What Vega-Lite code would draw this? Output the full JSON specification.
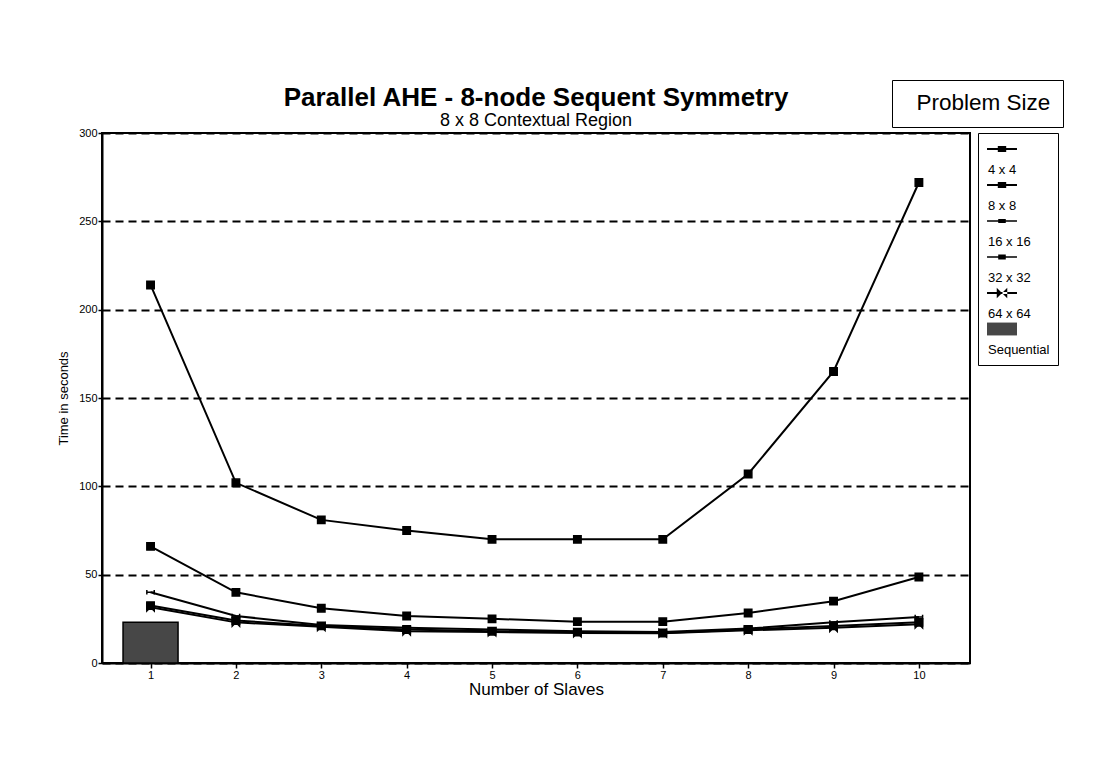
{
  "$schema": "https://vega.github.io/schema/vega-lite/v6.json",
  "width": 868,
  "height": 530,
  "autosize": {"type": "none"},
  "padding": {"left": 102, "top": 133, "right": 129, "bottom": 108},
  "background": "white",
  "title": {
    "text": "Parallel AHE - 8-node Sequent Symmetry",
    "subtitle": "8 x 8 Contextual Region",
    "anchor": "middle",
    "font": "Liberation Sans",
    "fontSize": 26,
    "fontWeight": "bold",
    "color": "black",
    "subtitleFont": "Liberation Sans",
    "subtitleFontSize": 18,
    "subtitleColor": "black",
    "subtitlePadding": 1,
    "offset": -50
  },
  "datasets": {
    "runs": [
      {"slaves": 1, "series": "4 x 4", "time": 214},
      {"slaves": 2, "series": "4 x 4", "time": 102},
      {"slaves": 3, "series": "4 x 4", "time": 81},
      {"slaves": 4, "series": "4 x 4", "time": 75},
      {"slaves": 5, "series": "4 x 4", "time": 70},
      {"slaves": 6, "series": "4 x 4", "time": 70},
      {"slaves": 7, "series": "4 x 4", "time": 70},
      {"slaves": 8, "series": "4 x 4", "time": 107},
      {"slaves": 9, "series": "4 x 4", "time": 165},
      {"slaves": 10, "series": "4 x 4", "time": 272},
      {"slaves": 1, "series": "8 x 8", "time": 66},
      {"slaves": 2, "series": "8 x 8", "time": 40},
      {"slaves": 3, "series": "8 x 8", "time": 31},
      {"slaves": 4, "series": "8 x 8", "time": 26.6},
      {"slaves": 5, "series": "8 x 8", "time": 25},
      {"slaves": 6, "series": "8 x 8", "time": 23.4},
      {"slaves": 7, "series": "8 x 8", "time": 23.4},
      {"slaves": 8, "series": "8 x 8", "time": 28.3},
      {"slaves": 9, "series": "8 x 8", "time": 35},
      {"slaves": 10, "series": "8 x 8", "time": 48.7},
      {"slaves": 1, "series": "16 x 16", "time": 40},
      {"slaves": 2, "series": "16 x 16", "time": 26.6},
      {"slaves": 3, "series": "16 x 16", "time": 21.5},
      {"slaves": 4, "series": "16 x 16", "time": 20},
      {"slaves": 5, "series": "16 x 16", "time": 19},
      {"slaves": 6, "series": "16 x 16", "time": 18},
      {"slaves": 7, "series": "16 x 16", "time": 17.5},
      {"slaves": 8, "series": "16 x 16", "time": 19.5},
      {"slaves": 9, "series": "16 x 16", "time": 23},
      {"slaves": 10, "series": "16 x 16", "time": 26},
      {"slaves": 1, "series": "32 x 32", "time": 32.5},
      {"slaves": 2, "series": "32 x 32", "time": 24},
      {"slaves": 3, "series": "32 x 32", "time": 21},
      {"slaves": 4, "series": "32 x 32", "time": 19},
      {"slaves": 5, "series": "32 x 32", "time": 18},
      {"slaves": 6, "series": "32 x 32", "time": 17.5},
      {"slaves": 7, "series": "32 x 32", "time": 17},
      {"slaves": 8, "series": "32 x 32", "time": 19},
      {"slaves": 9, "series": "32 x 32", "time": 21},
      {"slaves": 10, "series": "32 x 32", "time": 23},
      {"slaves": 1, "series": "64 x 64", "time": 31.5},
      {"slaves": 2, "series": "64 x 64", "time": 23},
      {"slaves": 3, "series": "64 x 64", "time": 20.5},
      {"slaves": 4, "series": "64 x 64", "time": 18},
      {"slaves": 5, "series": "64 x 64", "time": 17.5},
      {"slaves": 6, "series": "64 x 64", "time": 17},
      {"slaves": 7, "series": "64 x 64", "time": 16.8},
      {"slaves": 8, "series": "64 x 64", "time": 18.5},
      {"slaves": 9, "series": "64 x 64", "time": 20},
      {"slaves": 10, "series": "64 x 64", "time": 22}
    ],
    "sequential": [
      {"slaves": 1, "series": "Sequential", "time": 23}
    ]
  },
  "layer": [
    {
      "data": {"name": "sequential"},
      "mark": {"type": "bar", "orient": "vertical", "size": 55, "fill": "#474747", "stroke": "black", "strokeWidth": 1.5},
      "encoding": {
        "x": {
          "field": "slaves", "type": "quantitative",
          "scale": {"domain": [0.49, 10.54], "nice": false, "zero": false},
          "axis": {
            "values": [1, 2, 3, 4, 5, 6, 7, 8, 9, 10],
            "format": "d",
            "title": "Number of Slaves",
            "titleFontSize": 17,
            "titleFontWeight": "normal",
            "titlePadding": 1,
            "labelFontSize": 11,
            "labelPadding": 1,
            "tickSize": 5,
            "tickWidth": 1.5,
            "domainWidth": 2,
            "grid": false
          }
        },
        "y": {
          "field": "time", "type": "quantitative",
          "scale": {"domain": [0, 300], "nice": false},
          "axis": {
            "values": [0, 50, 100, 150, 200, 250, 300],
            "title": "Time in seconds",
            "titleFontSize": 13,
            "titleFontWeight": "normal",
            "titlePadding": 8,
            "labelFontSize": 11,
            "labelPadding": 1,
            "tickSize": 4,
            "tickWidth": 1.5,
            "domainWidth": 2,
            "grid": true,
            "gridColor": "black",
            "gridWidth": 2,
            "gridDash": [8, 5]
          }
        }
      }
    },
    {
      "data": {"name": "runs"},
      "mark": {"type": "line", "stroke": "black", "strokeWidth": 2},
      "encoding": {
        "x": {"field": "slaves", "type": "quantitative"},
        "y": {"field": "time", "type": "quantitative"},
        "detail": {"field": "series"}
      }
    },
    {
      "data": {"name": "runs"},
      "mark": {"type": "point", "filled": true, "fill": "black", "stroke": "black", "strokeWidth": 1.5, "size": 55, "opacity": 1},
      "encoding": {
        "x": {"field": "slaves", "type": "quantitative"},
        "y": {"field": "time", "type": "quantitative"},
        "shape": {
          "field": "series", "type": "nominal",
          "scale": {
            "domain": ["4 x 4", "8 x 8", "16 x 16", "32 x 32", "64 x 64"],
            "range": ["square", "square", "M-1,-0.6V0.6M-1,0H1M1,-0.6V0.6", "square", "M-1,-1L1,1V-1L-1,1Z"]
          },
          "legend": null
        }
      }
    },
    {
      "data": {"values": []},
      "mark": {"type": "point", "filled": true},
      "encoding": {
        "shape": {
          "field": "series", "type": "nominal",
          "scale": {
            "domain": ["4 x 4", "8 x 8", "16 x 16", "32 x 32", "64 x 64", "Sequential"],
            "range": [
              "M-2.14,-0.14H2.14V0.14H-2.14ZM-0.6,-0.43H0.6V0.43H-0.6Z",
              "M-2.14,-0.14H2.14V0.14H-2.14ZM-0.6,-0.43H0.6V0.43H-0.6Z",
              "M-2.14,-0.12H2.14V0.12H-2.14ZM-0.54,-0.3H0.54V0.3H-0.54Z",
              "M-2.14,-0.12H2.14V0.12H-2.14ZM-0.54,-0.36H0.54V0.36H-0.54Z",
              "M-2.14,-0.14H2.14V0.14H-2.14ZM-0.75,-0.75L0.75,0.75V-0.75L-0.75,0.75Z",
              "M-2.14,-0.92H2.14V0.92H-2.14Z"
            ]
          },
          "legend": {
            "orient": "none",
            "legendX": 876,
            "legendY": 0,
            "title": null,
            "strokeColor": "black",
            "padding": 8,
            "cornerRadius": 0,
            "symbolSize": 196,
            "symbolOffset": 8,
            "symbolOpacity": 1,
            "rowPadding": -3,
            "labelOffset": -22,
            "labelBaseline": "top",
            "labelExpr": "['', datum.label]",
            "labelFontSize": 13,
            "labelColor": "black"
          }
        },
        "fill": {
          "field": "series", "type": "nominal",
          "scale": {
            "domain": ["4 x 4", "8 x 8", "16 x 16", "32 x 32", "64 x 64", "Sequential"],
            "range": ["black", "black", "black", "black", "black", "#474747"]
          },
          "legend": {
            "orient": "none",
            "legendX": 876,
            "legendY": 0,
            "title": null,
            "strokeColor": "black",
            "padding": 8,
            "cornerRadius": 0,
            "symbolSize": 196,
            "symbolOffset": 8,
            "symbolOpacity": 1,
            "rowPadding": -3,
            "labelOffset": -22,
            "labelBaseline": "top",
            "labelExpr": "['', datum.label]",
            "labelFontSize": 13,
            "labelColor": "black"
          }
        }
      }
    },
    {
      "data": {"values": []},
      "mark": {"type": "point"},
      "encoding": {
        "shape": {
          "datum": "Problem Size", "type": "nominal",
          "legend": {
            "orient": "none",
            "legendX": 790,
            "legendY": -53,
            "title": null,
            "strokeColor": "black",
            "padding": 12,
            "cornerRadius": 0,
            "symbolSize": 16,
            "symbolOpacity": 0,
            "labelOffset": -10,
            "labelFontSize": 22.5,
            "labelColor": "black"
          }
        }
      }
    }
  ],
  "resolve": {
    "scale": {"shape": "independent", "fill": "independent"},
    "legend": {"shape": "independent", "fill": "independent"}
  },
  "config": {
    "font": "Liberation Sans",
    "view": {"stroke": "black", "strokeWidth": 2},
    "axis": {
      "labelColor": "black",
      "titleColor": "black",
      "domainColor": "black",
      "tickColor": "black",
      "labelFont": "Liberation Sans",
      "titleFont": "Liberation Sans"
    },
    "legend": {"labelFont": "Liberation Sans"}
  }
}
